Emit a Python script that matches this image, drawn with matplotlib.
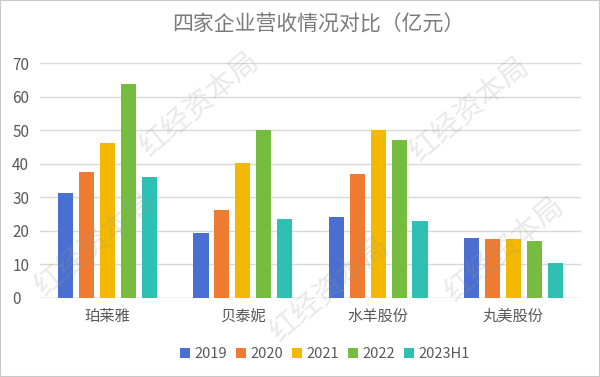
import matplotlib
matplotlib.use("Agg")
import matplotlib.pyplot as plt
import numpy as np

plt.rcParams['font.family'] = ['Noto Sans CJK SC', 'DejaVu Sans']

categories = ["珀莱雅", "贝泰妮", "水羊股份", "丸美股份"]
series_names = ["2019", "2020", "2021", "2022", "2023H1"]
v2019 = [31.2, 19.3, 24.0, 17.9]
v2020 = [37.4, 26.2, 36.9, 17.5]
v2021 = [46.2, 40.1, 50.0, 17.7]
v2022 = [63.6, 50.0, 47.0, 17.1]
v2023h1 = [36.1, 23.6, 22.8, 10.5]
colors = ["#4A6FD0", "#EE7B30", "#F4B800", "#76BD3F", "#2EC0B2"]
yticks = [0, 10, 20, 30, 40, 50, 60, 70]

values = [v2019, v2020, v2021, v2022, v2023h1]

fig = plt.figure(figsize=(6.0, 3.77), dpi=100)
ax = fig.add_axes([40/600, 1-298/377, (581-40)/600, (298-63)/377])

x = np.arange(len(categories))
step = 0.155
width = 0.112
for i, (name, vals, c) in enumerate(zip(series_names, values, colors)):
    ax.bar(x + (i - 2) * step, vals, width=width, color=c, label=name, zorder=3)

ax.set_xlim(-0.5, 3.5)
ax.set_ylim(0, 70)
ax.set_yticks(yticks)
ax.yaxis.grid(True, color="#D9D9D9", linewidth=1, zorder=0)
for s in ax.spines.values():
    s.set_visible(False)
ax.axhline(0, color="#D9D9D9", linewidth=1, zorder=1)
ax.tick_params(axis='both', length=0, labelsize=11, colors="#595959")
ax.tick_params(axis='y', pad=20)
ax.set_yticklabels([str(t) for t in yticks], ha='left')
ax.set_xticks(x)
ax.set_xticklabels(categories, fontsize=11)
ax.tick_params(axis='x', pad=7)

fig.text(318/600, 1-25/377, "四家企业营收情况对比（亿元）", ha='center', va='center',
         fontsize=15, color="#7A7A7A", fontweight='light')

leg = fig.legend(loc='center', bbox_to_anchor=(325/600, 1-354/377), ncol=5, frameon=False,
                 fontsize=10.5, handlelength=0.7, handleheight=0.7, handletextpad=0.3,
                 columnspacing=0.6, labelcolor="#595959")

# watermark
wm = "红经资本局"
for (px, py) in [(200, 105), (470, 110), (95, 245), (330, 290), (505, 250)]:
    fig.text(px/600, 1-py/377, wm, ha='center', va='center', fontsize=21, rotation=40,
             color="#9A9A9A", alpha=0.22, zorder=10)

fig.patches.append(plt.Rectangle((0, 0), 1, 1, transform=fig.transFigure, fill=False,
                                 edgecolor="#C8C8C8", linewidth=1.5))
fig.savefig("out.png", dpi=100)
